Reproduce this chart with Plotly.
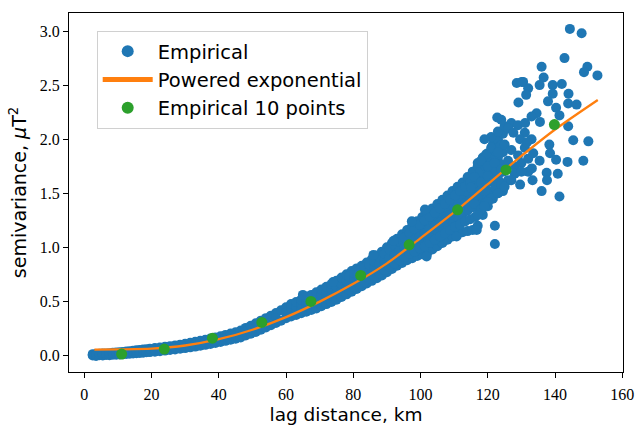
import plotly.graph_objects as go

# ---------------- data ----------------
# Empirical semivariogram cloud (lag distance km, semivariance uT^2)
emp_x = [
    2.5, 2.5, 3.5, 3.5, 4.5, 4.5, 5.5, 5.5, 6.5, 6.5, 7.5, 7.5, 8.5, 8.5, 9.5, 9.5,
    10.5, 10.5, 11.5, 11.5, 12.5, 12.5, 13.5, 13.5, 14.5, 14.5, 15.5, 15.5, 16.5, 16.5,
    17.5, 17.5, 18.5, 18.5, 19.5, 19.5,
    21, 21, 21, 22.5, 22.5, 24, 24, 24, 25.5, 25.5, 27, 27, 27, 28.5, 28.5, 30, 30, 30,
    31.5, 31.5, 33, 33, 33, 34.5, 34.5, 36, 36, 36, 37.5, 37.5, 39, 39, 39, 40.5, 40.5,
    42, 42, 42, 43.5, 43.5, 45, 45, 45, 46.5, 46.5, 48, 48, 48, 49.5, 49.5, 51, 51, 51,
    52.5, 52.5, 54, 54, 54, 55.5, 55.5, 57, 57, 57, 58.5, 58.5, 60, 60, 60,
    61.5, 61.5, 61.5, 61.5, 63, 63, 63, 63, 64.5, 64.5, 64.5, 64.5, 66, 66, 66, 66,
    67.5, 67.5, 67.5, 67.5, 69, 69, 69, 69, 70.5, 70.5, 70.5, 70.5, 72, 72, 72, 72,
    73.5, 73.5, 73.5, 73.5, 75, 75, 75, 75, 76.5, 76.5, 76.5, 76.5, 78, 78, 78, 78,
    79.5, 79.5, 79.5, 79.5, 81, 81, 81, 81, 82.5, 82.5, 82.5, 82.5, 84, 84, 84, 84,
    85.5, 85.5, 85.5, 85.5, 87, 87, 87, 87, 88.5, 88.5, 88.5, 88.5, 90, 90, 90, 90,
    91.5, 91.5, 91.5, 91.5, 93, 93, 93, 93, 94.5, 94.5, 94.5, 94.5, 96, 96, 96, 96,
    97.5, 97.5, 97.5, 97.5, 99, 99, 99, 99, 100.5, 100.5, 100.5, 100.5, 102, 102, 102, 102,
    103.5, 103.5, 103.5, 103.5, 105, 105, 105, 105, 106.5, 106.5, 106.5, 106.5,
    108, 108, 108, 108, 109.5, 109.5, 109.5, 109.5, 111, 111, 111, 111,
    112.5, 112.5, 112.5, 112.5, 114, 114, 114, 114, 115.5, 115.5, 115.5, 115.5,
    117, 117, 117, 117, 118.5, 118.5, 118.5, 118.5, 120, 120, 120, 120,
    121.5, 121.5, 121.5, 121.5, 123, 123, 123, 123, 124.5, 124.5, 124.5, 124.5,
    # in-between points of the dense band
    78.75, 78.75, 78.75, 80.25, 80.25, 80.25, 81.75, 81.75, 81.75, 83.25, 83.25, 83.25,
    84.75, 84.75, 84.75, 86.25, 86.25, 86.25, 87.75, 87.75, 87.75, 89.25, 89.25, 89.25,
    90.75, 90.75, 90.75, 92.25, 92.25, 92.25, 93.75, 93.75, 93.75, 95.25, 95.25, 95.25,
    96.75, 96.75, 96.75, 98.25, 98.25, 98.25, 99.75, 99.75, 99.75, 101.25, 101.25, 101.25,
    102.75, 102.75, 102.75, 104.25, 104.25, 104.25, 105.75, 105.75, 105.75,
    107.25, 107.25, 107.25, 108.75, 108.75, 108.75, 110.25, 110.25, 110.25,
    111.75, 111.75, 111.75, 113.25, 113.25, 113.25, 114.75, 114.75, 114.75,
    116.25, 116.25, 116.25, 117.75, 117.75, 117.75, 119.25, 119.25, 119.25,
    120.75, 120.75, 120.75, 122.25, 122.25, 122.25, 123.75, 123.75, 123.75,
    # edge bumps
    101.8, 110.7, 116.7, 97.4, 101.3, 92.0, 86.0, 74.0, 65.0,
    # dense cluster 115-135
    117, 118.5, 119.5, 121, 123, 125, 127, 129, 131, 118, 120, 122, 124, 126, 128, 130, 132,
    116, 118, 120, 122, 124, 126, 128, 130, 115, 117, 119, 121, 123, 125, 127, 116, 118, 120,
    117, 119, 121, 123, 125, 127, 129, 131, 133, 119, 124,
    # scattered points beyond 120 km
    144.4, 147.9, 142.8, 136.0, 149.6, 148.6, 152.6, 136.6, 130.5, 135.4, 132.0, 139.3,
    142.0, 139.3, 131.4, 144.0, 129.1, 137.9, 143.9, 146.4, 140.3, 141.3, 122.8, 134.5,
    133.0, 126.1, 131.1, 135.5, 143.9, 145.4, 149.9, 138.3, 138.5, 140.3, 143.7, 148.4,
    132.0, 135.4, 133.1, 137.5, 137.6, 140.8, 133.3, 136.0, 141.3, 129.6, 122.1, 122.1,
    127.6, 129.6, 131.6, 133.5, 128.6, 130.1,
]
emp_y = [
    0.000, 0.012, -0.004, 0.014, 0.002, 0.016, 0.000, 0.018, 0.004, 0.018, 0.003, 0.021,
    0.006, 0.024, 0.006, 0.027, 0.009, 0.030, 0.011, 0.033, 0.013, 0.036, 0.016, 0.040,
    0.018, 0.043, 0.021, 0.047, 0.023, 0.050, 0.026, 0.054, 0.029, 0.058, 0.031, 0.062,
    0.035, 0.068, 0.052, 0.040, 0.074, 0.045, 0.080, 0.062, 0.050, 0.086, 0.056, 0.093, 0.075,
    0.062, 0.100, 0.068, 0.108, 0.088, 0.075, 0.117, 0.082, 0.126, 0.104, 0.090, 0.136,
    0.098, 0.146, 0.122, 0.107, 0.156, 0.116, 0.167, 0.141, 0.125, 0.178,
    0.135, 0.190, 0.162, 0.145, 0.202, 0.155, 0.215, 0.185, 0.166, 0.230,
    0.185, 0.255, 0.220, 0.200, 0.275, 0.218, 0.298, 0.258,
    0.238, 0.322, 0.258, 0.345, 0.300, 0.280, 0.368, 0.300, 0.392, 0.345, 0.322, 0.418,
    0.345, 0.445, 0.395,
    0.36, 0.40, 0.44, 0.475, 0.375, 0.415, 0.455, 0.495, 0.39, 0.43, 0.475, 0.515,
    0.405, 0.45, 0.495, 0.54, 0.42, 0.47, 0.515, 0.56, 0.435, 0.49, 0.535, 0.585,
    0.455, 0.51, 0.56, 0.61, 0.475, 0.53, 0.585, 0.635, 0.495, 0.55, 0.61, 0.66,
    0.515, 0.575, 0.635, 0.69, 0.54, 0.60, 0.66, 0.72, 0.565, 0.625, 0.69, 0.75,
    0.59, 0.65, 0.715, 0.78, 0.615, 0.675, 0.74, 0.805, 0.64, 0.70, 0.765, 0.83,
    0.665, 0.73, 0.795, 0.86, 0.69, 0.76, 0.825, 0.89, 0.715, 0.785, 0.855, 0.925,
    0.74, 0.815, 0.885, 0.96, 0.77, 0.845, 0.92, 1.00, 0.80, 0.875, 0.955, 1.04,
    0.83, 0.905, 0.99, 1.08, 0.855, 0.94, 1.025, 1.12, 0.88, 0.97, 1.06, 1.16,
    0.90, 1.00, 1.10, 1.20, 0.92, 1.03, 1.135, 1.24, 0.935, 1.06, 1.17, 1.28,
    0.95, 1.09, 1.21, 1.32, 0.98, 1.12, 1.245, 1.36, 1.01, 1.15, 1.28, 1.40,
    1.04, 1.18, 1.315, 1.44, 1.07, 1.21, 1.35, 1.48, 1.10, 1.245, 1.39, 1.52,
    1.12, 1.28, 1.43, 1.56, 1.14, 1.31, 1.47, 1.60, 1.15, 1.34, 1.51, 1.65,
    1.16, 1.37, 1.55, 1.70, 1.20, 1.40, 1.59, 1.75, 1.30, 1.45, 1.63, 1.81,
    1.38, 1.52, 1.69, 1.87, 1.45, 1.60, 1.76, 1.95, 1.50, 1.66, 1.83, 2.00,
    1.52, 1.70, 1.88, 2.05,
    # in-between points of the dense band
    0.61, 0.67, 0.73, 0.63, 0.70, 0.76, 0.66, 0.72, 0.79, 0.68, 0.75, 0.81,
    0.71, 0.78, 0.84, 0.74, 0.81, 0.87, 0.76, 0.84, 0.91, 0.79, 0.87, 0.94,
    0.82, 0.90, 0.98, 0.85, 0.93, 1.02, 0.88, 0.97, 1.05, 0.91, 1.00, 1.09,
    0.94, 1.03, 1.13, 0.96, 1.07, 1.17, 0.99, 1.10, 1.21, 1.01, 1.13, 1.25,
    1.04, 1.17, 1.28, 1.07, 1.20, 1.32, 1.10, 1.23, 1.36,
    1.13, 1.26, 1.40, 1.16, 1.30, 1.44, 1.19, 1.34, 1.48,
    1.21, 1.37, 1.52, 1.24, 1.41, 1.56, 1.26, 1.44, 1.60,
    1.28, 1.48, 1.65, 1.34, 1.52, 1.70, 1.41, 1.57, 1.75,
    1.49, 1.64, 1.82, 1.55, 1.71, 1.89, 1.60, 1.77, 1.94,
    # edge bumps
    0.915, 1.10, 1.16, 1.24, 1.35, 1.06, 0.93, 0.68, 0.56,
    # dense cluster 115-135
    1.78, 1.83, 1.86, 1.92, 1.88, 1.95, 1.90, 1.85, 1.92, 1.80, 1.75, 1.78, 1.72, 1.80,
    1.75, 1.78, 1.70, 1.65, 1.60, 1.66, 1.62, 1.58, 1.62, 1.68, 1.70, 1.55, 1.48, 1.52,
    1.45, 1.50, 1.56, 1.62, 1.40, 1.35, 1.42, 1.30, 1.38, 2.02, 2.07, 2.12, 2.15, 2.13,
    2.06, 2.00, 2.00, 2.18,
    # scattered points beyond 120 km
    3.02, 2.98, 2.75, 2.67, 2.67, 2.62, 2.59, 2.57, 2.53, 2.50, 2.47, 2.50,
    2.51, 2.42, 2.41, 2.42, 2.34, 2.35, 2.33, 2.32, 2.29, 2.22, 2.20, 2.24,
    2.21, 2.10, 2.15, 2.16, 2.12, 1.99, 1.98, 1.95, 1.87, 1.81, 1.79, 1.80,
    1.82, 1.80, 1.73, 1.69, 1.62, 1.68, 1.62, 1.52, 1.47, 1.58, 1.20, 1.03,
    2.06, 2.00, 1.97, 1.87, 2.52, 2.53,
]

# Powered exponential model curve
model_x = [3, 10, 20, 30, 40, 50, 60, 70, 80, 90, 100, 110, 120, 130, 140, 152.7]
model_y = [0.053, 0.056, 0.063, 0.092, 0.150, 0.238, 0.355, 0.498, 0.662, 0.852,
           1.085, 1.325, 1.585, 1.845, 2.090, 2.363]

# Empirical semivariogram, 10 binned points
bin_x = [11.1, 23.8, 38.1, 52.8, 67.4, 82.2, 96.6, 111.0, 125.4, 139.8]
bin_y = [0.013, 0.059, 0.160, 0.305, 0.500, 0.740, 1.023, 1.347, 1.716, 2.135]

x_ticks = [0, 20, 40, 60, 80, 100, 120, 140, 160]
y_ticks = [0.0, 0.5, 1.0, 1.5, 2.0, 2.5, 3.0]

# ---------------- figure ----------------
SANS = "DejaVu Sans"
SERIF = "Liberation Serif"

fig = go.Figure()
fig.add_trace(go.Scatter(
    x=emp_x, y=emp_y, mode="markers", name="Empirical",
    marker=dict(color="#1f77b4", size=10, line=dict(width=0)),
))
fig.add_trace(go.Scatter(
    x=model_x, y=model_y, mode="lines", name="Powered exponential",
    line=dict(color="#ff7f0e", width=2.3, shape="spline", smoothing=0.8),
))
fig.add_trace(go.Scatter(
    x=bin_x, y=bin_y, mode="markers", name="Empirical 10 points",
    marker=dict(color="#2ca02c", size=11, line=dict(width=0)),
))

axis_common = dict(
    showgrid=False, zeroline=False, showline=True, linecolor="black", linewidth=1.2,
    mirror=True, ticks="outside", ticklen=5, tickwidth=1, tickcolor="black",
    tickfont=dict(family=SERIF, size=16, color="black"),
    automargin=False,
)

fig.update_layout(
    width=635, height=425,
    margin=dict(l=69, r=12, t=13, b=53),
    paper_bgcolor="white", plot_bgcolor="white",
    showlegend=True,
    legend=dict(
        x=0.05, y=0.95, xanchor="left", yanchor="top",
        bgcolor="rgba(255,255,255,0.8)", bordercolor="#d0d0d0", borderwidth=1,
        font=dict(family=SANS, size=19.5, color="black"),
        itemsizing="constant", itemwidth=50,
    ),
    xaxis=dict(
        range=[-4.55, 160.2], tickvals=x_ticks, ticktext=[str(v) for v in x_ticks],
        ticklabelstandoff=3,
        title=dict(text="lag distance, km", font=dict(family=SANS, size=18.5, color="black"), standoff=8),
        **axis_common,
    ),
    yaxis=dict(
        range=[-0.153, 3.167], tickvals=y_ticks, ticktext=[f"{v:.1f}" for v in y_ticks],
        title=dict(text="semivariance, <i>μ</i>T<sup>2</sup>", font=dict(family=SANS, size=19, color="black"), standoff=8),
        **axis_common,
    ),
)

fig.write_html("out.html")
